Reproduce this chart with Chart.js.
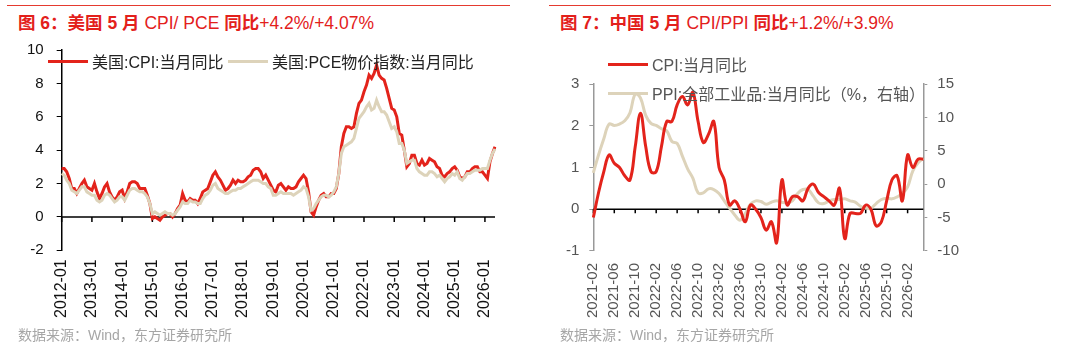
<!DOCTYPE html>
<html>
<head>
<meta charset="utf-8">
<script src="https://cdn.jsdelivr.net/npm/chart.js@4/dist/chart.umd.min.js"></script>
<style>
  body { margin: 0; background: #fff; font-family: "Liberation Sans", "Noto Sans CJK SC", sans-serif; }
  #page { position: relative; width: 1068px; height: 354px; overflow: hidden; }
  .rule { position: absolute; top: 5px; height: 1px; background: #e53a2f; }
  .title { position: absolute; top: 9px; font-size: 17.5px; color: #e3201b; white-space: nowrap; }
  .source { position: absolute; top: 324px; font-size: 14px; color: #a6a6a6; white-space: nowrap; }
  .box { position: absolute; top: 28px; width: 534px; height: 320px; }
  .item { position: absolute; display: flex; align-items: center; white-space: nowrap; transform: translateY(-50%); }
  .swatch { display: inline-block; width: 40px; height: 3px; margin-right: 4px; }
</style>
</head>
<body>
<div id="page">
  <div class="rule" style="left:7px;width:503px"></div>
  <div class="title" style="left:18px"><b>图 6：美国 5 月</b> CPI/ PCE <b>同比</b>+4.2%/+4.07%</div>
  <div class="box" style="left:0"><canvas id="usChart"></canvas></div>
  <div class="source" style="left:18px">数据来源：Wind，东方证券研究所</div>

  <div class="rule" style="left:549px;width:502px"></div>
  <div class="title" style="left:560px"><b>图 7：中国 5 月</b> CPI/PPI <b>同比</b>+1.2%/+3.9%</div>
  <div class="box" style="left:534px"><canvas id="cnChart"></canvas></div>
  <div class="source" style="left:560px">数据来源：Wind，东方证券研究所</div>
</div>

<script>
// ---- US chart data: monthly, 2012-01 .. 2026-05 ----
const usStart = 2012;
const usCount = 173;
const usCpi = [
  2.9,2.9,2.7,2.3,1.7,1.7,1.4,1.7,2.0,2.2,1.8,1.7,
  1.6,2.0,1.5,1.1,1.4,1.8,2.0,1.5,1.2,1.0,1.2,1.5,
  1.6,1.1,1.5,2.0,2.1,2.1,2.0,1.7,1.7,1.7,1.3,0.8,
  -0.1,0.0,-0.1,-0.2,0.0,0.1,0.2,0.2,0.0,0.2,0.5,0.7,
  1.4,1.0,0.9,1.1,1.0,1.0,0.8,1.1,1.5,1.6,1.7,2.1,
  2.5,2.7,2.4,2.2,1.9,1.6,1.7,1.9,2.2,2.0,2.2,2.1,
  2.1,2.2,2.4,2.5,2.8,2.9,2.9,2.7,2.3,2.5,2.2,1.9,
  1.6,1.5,1.9,2.0,1.8,1.6,1.8,1.7,1.7,1.8,2.1,2.3,
  2.5,2.3,1.5,0.3,0.1,0.6,1.0,1.3,1.4,1.2,1.2,1.4,
  1.4,1.7,2.6,4.2,5.0,5.4,5.4,5.3,5.4,6.2,6.8,7.0,
  7.5,7.9,8.5,8.3,8.6,9.1,8.5,8.3,8.2,7.7,7.1,6.5,
  6.4,6.0,5.0,4.9,4.0,3.0,3.2,3.7,3.7,3.2,3.1,3.4,
  3.1,3.2,3.5,3.4,3.3,3.0,2.9,2.5,2.4,2.6,2.7,2.9,
  3.0,2.8,2.4,2.3,2.4,2.7,2.7,2.9,3.0,3.0,2.7,2.7,
  2.5,2.3,3.3,3.8,4.2
];
const usPce = [
  2.6,2.5,2.2,2.0,1.6,1.5,1.4,1.6,1.8,1.8,1.5,1.4,
  1.3,1.3,1.0,0.9,1.0,1.3,1.4,1.3,1.1,0.9,1.0,1.2,
  1.2,1.0,1.3,1.6,1.7,1.7,1.6,1.5,1.5,1.4,1.2,0.8,
  0.2,0.3,0.2,0.1,0.2,0.3,0.2,0.2,0.1,0.2,0.4,0.6,
  0.9,0.8,0.8,1.0,0.9,0.9,0.8,0.8,1.1,1.3,1.4,1.6,
  1.9,2.0,1.7,1.6,1.5,1.4,1.4,1.5,1.6,1.6,1.7,1.7,
  1.8,1.9,2.0,2.1,2.2,2.2,2.2,2.1,2.0,2.0,1.8,1.7,
  1.3,1.3,1.4,1.5,1.4,1.4,1.4,1.4,1.3,1.4,1.5,1.6,
  1.8,1.7,1.2,0.4,0.5,0.8,1.0,1.2,1.3,1.3,1.2,1.3,
  1.5,1.8,2.6,3.8,4.2,4.3,4.4,4.5,4.7,5.3,5.9,6.1,
  6.3,6.6,6.8,6.4,6.5,7.0,6.6,6.3,6.3,6.1,5.7,5.3,
  5.4,5.1,4.4,4.4,4.0,3.2,3.3,3.4,3.4,2.9,2.7,2.6,
  2.5,2.5,2.7,2.7,2.6,2.4,2.5,2.3,2.1,2.3,2.4,2.6,
  2.5,2.7,2.3,2.2,2.4,2.6,2.6,2.7,2.8,2.8,2.8,2.9,
  2.9,2.9,3.4,3.8,4.07
];
const usLabels = ['美国:CPI:当月同比', '美国:PCE物价指数:当月同比'];

// ---- China chart data: monthly, 2021-02 .. 2026-05 ----
const cnStartYear = 2021, cnStartMonth = 2;
const cnCount = 64;
const cnCpi = [
  -0.2,0.4,0.9,1.3,1.1,1.0,0.8,0.7,1.5,2.3,1.5,
  0.9,0.9,1.5,2.1,2.1,2.5,2.7,2.5,2.8,2.1,1.6,1.8,
  2.1,1.0,0.7,0.1,0.2,0.0,-0.3,0.1,0.0,-0.2,-0.5,-0.3,
  -0.8,0.7,0.1,0.3,0.3,0.2,0.5,0.6,0.4,0.3,0.2,0.1,
  0.5,-0.7,-0.1,-0.1,-0.1,0.1,0.0,-0.4,-0.3,0.2,0.7,0.8,
  0.2,1.3,1.0,1.2,1.2
];
const cnPpi = [
  1.7,4.4,6.8,9.0,8.8,9.0,9.5,10.7,13.5,12.9,10.3,
  9.1,8.8,8.3,8.0,6.4,6.1,4.2,2.3,0.9,-1.3,-1.3,-0.7,
  -0.8,-1.4,-2.5,-3.6,-4.6,-5.4,-4.4,-3.0,-2.5,-2.6,-3.0,-2.7,
  -2.5,-2.7,-2.8,-2.5,-1.4,-0.8,-0.8,-1.8,-2.8,-2.9,-2.5,-2.3,
  -2.3,-2.2,-2.5,-2.7,-3.3,-3.6,-3.6,-2.9,-2.3,-2.1,-2.2,-1.9,
  -1.4,-0.4,2.0,3.2,3.9
];
const cnLabels = ['CPI:当月同比', 'PPI:全部工业品:当月同比（%，右轴）'];

const RED = '#e3231b';
const BEIGE = '#ddd3ba';

function monthLabels(year, month, n) {
  const out = [];
  for (let i = 0; i < n; i++) {
    const m = (month - 1 + i) % 12 + 1;
    const y = year + Math.floor((month - 1 + i) / 12);
    out.push(y + '-' + String(m).padStart(2, '0'));
  }
  return out;
}
const usMonths = monthLabels(usStart, 1, usCount);
const cnMonths = monthLabels(cnStartYear, cnStartMonth, cnCount);

// draws the zero line with small downward ticks at labelled categories
const zeroAxis = {
  id: 'zeroAxis',
  beforeDatasetsDraw(chart, args, opts) {
    const xs = chart.scales.x, ys = chart.scales.y, ctx = chart.ctx;
    const y0 = ys.getPixelForValue(0);
    ctx.save();
    ctx.strokeStyle = '#000';
    ctx.lineWidth = 1.5;
    ctx.beginPath();
    ctx.moveTo(chart.chartArea.left, y0);
    ctx.lineTo(chart.chartArea.right, y0);
    xs.ticks.forEach((t, i) => {
      if (!t.label) return;
      const px = xs.getPixelForTick(i);
      ctx.moveTo(px, y0);
      ctx.lineTo(px, y0 + opts.tick);
    });
    ctx.stroke();
    ctx.restore();
  }
};

function addLegend(chart, spots, color) {
  const page = document.getElementById('page');
  chart.data.datasets.forEach((ds, i) => {
    const el = document.createElement('div');
    el.className = 'item';
    el.style.left = spots[i][0] + 'px';
    el.style.top = spots[i][1] + 'px';
    el.style.fontSize = spots[i][2] + 'px';
    el.style.color = color;
    el.innerHTML = '<span class="swatch" style="background:' + ds.borderColor + '"></span>' + ds.label;
    page.appendChild(el);
  });
}

const usChart = new Chart(document.getElementById('usChart'), {
  type: 'line',
  data: {
    labels: usMonths,
    datasets: [
      { label: usLabels[0], data: usCpi, borderColor: RED, borderWidth: 3, pointRadius: 0, order: 1 },
      { label: usLabels[1], data: usPce, borderColor: BEIGE, borderWidth: 3, pointRadius: 0, order: 0 }
    ]
  },
  options: {
    responsive: true,
    maintainAspectRatio: false,
    animation: false,
    layout: { padding: { left: 14, top: 14, right: 39, bottom: 21 } },
    plugins: { legend: { display: false }, tooltip: { enabled: false }, zeroAxis: { tick: 5 } },
    scales: {
      x: {
        offset: false,
        grid: { display: false, drawTicks: false },
        border: { display: false },
        ticks: {
          autoSkip: false, maxRotation: 90, minRotation: 90, padding: 9,
          color: '#111', font: { size: 16, family: 'Liberation Sans' },
          callback: (v, i) => usMonths[i].endsWith('-01') ? usMonths[i] : ''
        }
      },
      y: {
        min: -2, max: 10,
        ticks: { stepSize: 2, padding: 13, color: '#111', font: { size: 15, family: 'Liberation Sans' } },
        grid: { drawOnChartArea: false, tickLength: 5, color: '#000' },
        border: { color: '#000', width: 1.5 }
      }
    }
  },
  plugins: [zeroAxis]
});

const cnChart = new Chart(document.getElementById('cnChart'), {
  type: 'line',
  data: {
    labels: cnMonths,
    datasets: [
      { label: cnLabels[0], data: cnCpi, yAxisID: 'y', borderColor: RED, borderWidth: 3, pointRadius: 0, tension: 0.4 },
      { label: cnLabels[1], data: cnPpi, yAxisID: 'y1', borderColor: BEIGE, borderWidth: 3, pointRadius: 0, tension: 0.4 }
    ]
  },
  options: {
    responsive: true,
    maintainAspectRatio: false,
    animation: false,
    layout: { padding: { left: 22, top: 56, right: 99, bottom: 18 } },
    plugins: { legend: { display: false }, tooltip: { enabled: false }, zeroAxis: { tick: 4 } },
    scales: {
      x: {
        offset: false,
        grid: { display: false, drawTicks: false },
        border: { display: false },
        ticks: {
          autoSkip: false, maxRotation: 90, minRotation: 90, padding: 12,
          color: '#555', font: { size: 15, family: 'Liberation Sans' },
          callback: (v, i) => i % 4 === 0 ? cnMonths[i] : ''
        }
      },
      y: {
        position: 'left', min: -1, max: 3,
        ticks: { stepSize: 1, padding: 10, color: '#555', font: { size: 15, family: 'Liberation Sans' } },
        grid: { drawOnChartArea: false, tickLength: 4, color: '#999' },
        border: { color: '#999', width: 1.5 }
      },
      y1: {
        position: 'right', min: -10, max: 15,
        ticks: { stepSize: 5, padding: 10, color: '#555', font: { size: 15, family: 'Liberation Sans' } },
        grid: { drawOnChartArea: false, tickLength: 4, color: '#999' },
        border: { color: '#999', width: 1.5 }
      }
    }
  },
  plugins: [zeroAxis]
});

addLegend(usChart, [[48, 61, 16], [228, 61, 16]], '#222');
addLegend(cnChart, [[608, 64, 16], [608, 93, 16]], '#555');
</script>
</body>
</html>
